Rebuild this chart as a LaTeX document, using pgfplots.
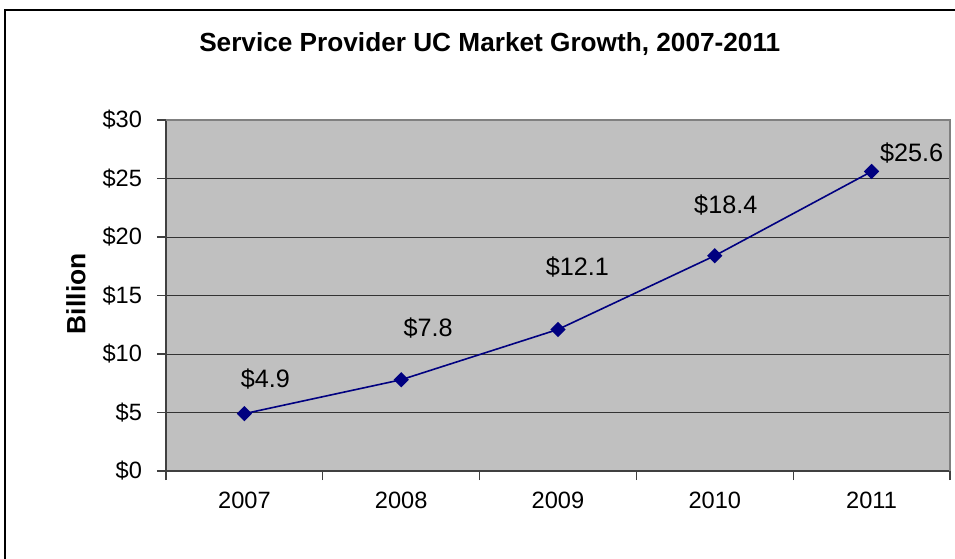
\documentclass[border=0pt]{standalone}
\usepackage{fontspec}
\setmainfont{Liberation Sans}
\usepackage{pgfplots}
\pgfplotsset{compat=1.18}

\definecolor{plotbg}{RGB}{192,192,192}
\definecolor{linenavy}{RGB}{0,0,128}

\begin{document}
\begin{tikzpicture}
\begin{axis}[
    name=ax,
    at={(0,0)}, anchor=south west,
    scale only axis,
    width=392pt, height=175.5pt,
    xmin=-0.5, xmax=4.5,
    ymin=0, ymax=30,
    axis background/.style={fill=plotbg},
    axis line style={black!75, line width=0.6pt},
    xtick={-0.5,0.5,...,4.5},
    xticklabels={},
    extra x ticks={0,1,2,3,4},
    extra x tick labels={2007,2008,2009,2010,2011},
    extra x tick style={major tick length=0pt, grid=none},
    ytick={0,5,...,30},
    yticklabels={\$0,\$5,\$10,\$15,\$20,\$25,\$30},
    tick pos=left,
    tick align=outside,
    major tick length=4.5pt,
    tick style={black!75, line width=0.6pt},
    ymajorgrids,
    grid style={black!80, line width=0.5pt},
    tick label style={font=\fontsize{11.8}{14}\selectfont},
    xticklabel style={yshift=-7pt},
    yticklabel style={xshift=-4pt},
    title={Service Provider UC Market Growth, 2007-2011},
    title style={at={(axis description cs:0.413,1.182)}, anchor=center,
        font=\fontsize{13.1}{15}\selectfont\bfseries},
    ylabel={Billion},
    ylabel style={at={(axis description cs:-0.115,0.505)}, anchor=center,
        font=\fontsize{13.2}{15}\selectfont\bfseries},
    clip=false,
]
\addplot[color=linenavy, line width=0.8pt,
    mark=square*, mark size=2.3pt,
    mark options={rotate=45, fill=linenavy, draw=linenavy}]
    coordinates {(0,4.9) (1,7.8) (2,12.1) (3,18.4) (4,25.6)};
% data labels
\addplot[draw=none, mark=none,
    nodes near coords={\$\pgfplotspointmeta},
    point meta=explicit symbolic,
    every node near coord/.style={anchor=center, font=\fontsize{12.6}{14}\selectfont}]
    coordinates {(0.134,7.86)[4.9] (1.172,12.22)[7.8] (2.124,17.44)[12.1]
                 (3.070,22.74)[18.4] (4.255,27.18)[25.6]};
\end{axis}
\draw[gray, line width=0.6pt] (ax.north west) -- (ax.north east) -- (ax.south east);
\draw[black, line width=0.6pt] (-80.5pt,-60pt) |- (420pt,230.5pt);
\pgfresetboundingbox
\path[use as bounding box] (-83pt,-43.5pt) rectangle (394.5pt,235.5pt);
\end{tikzpicture}
\end{document}
